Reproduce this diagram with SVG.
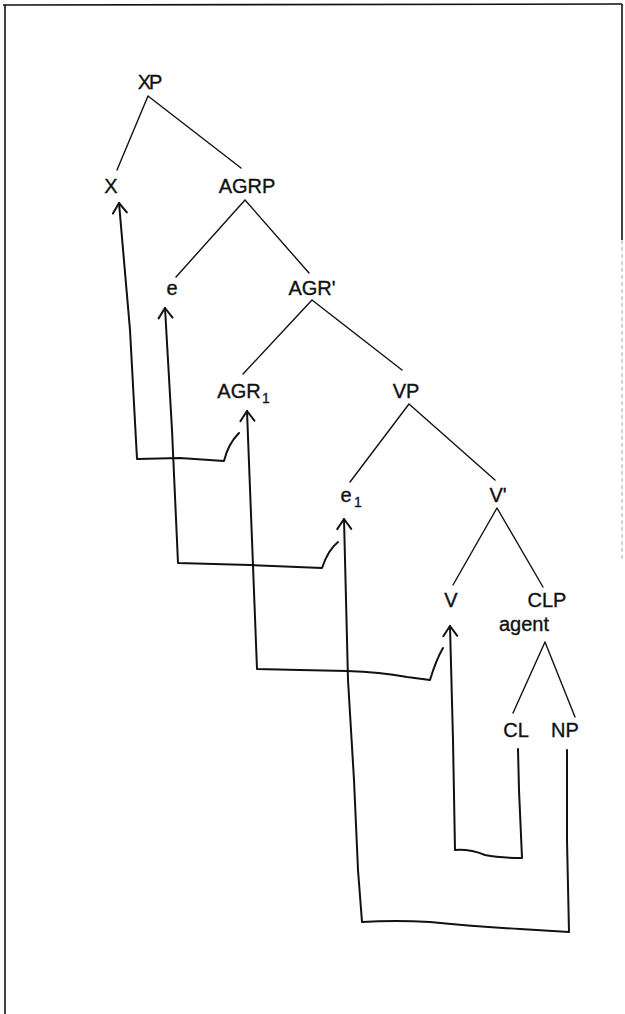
<svg xmlns="http://www.w3.org/2000/svg" width="625" height="1014" viewBox="0 0 625 1014">
<style>
.lbl{font-family:"Liberation Sans",Arial,sans-serif;font-size:20px;fill:#111;stroke:#111;stroke-width:0.35;text-anchor:middle}
.sub{font-family:"Liberation Sans",Arial,sans-serif;font-size:14px;fill:#111;stroke:#111;stroke-width:0.3}
.br{stroke:#111;stroke-width:1.4;fill:none;stroke-linecap:round}
.mv{stroke:#111;stroke-width:2;fill:none;stroke-linejoin:round;stroke-linecap:round}
.frame{stroke:#111;stroke-width:1.6;fill:none}
</style>
<defs>
<marker id="ah" markerUnits="userSpaceOnUse" markerWidth="30" markerHeight="30" viewBox="-15 -15 30 30" refX="0" refY="0" orient="auto-start-reverse" overflow="visible">
<path d="M-10,-7 L0,0 L-10,7" fill="none" stroke="#111" stroke-width="2" stroke-linecap="round" stroke-linejoin="round"/>
</marker>
</defs>
<rect width="625" height="1014" fill="#fff"/>
<g id="frame">
<path class="frame" d="M3,5 L622,4"/>
<path class="frame" d="M5,5 L5,1014"/>
<path class="frame" d="M622,4 L622,240"/>
<path d="M622,240 L622,560" stroke="#aaa" stroke-width="1" stroke-dasharray="4 3" fill="none"/>
</g>
<g id="branches">
<path class="br" d="M148,96 L117,170 M148,96 L241,168"/>
<path class="br" d="M245,200 L176,277 M245,200 L309,273"/>
<path class="br" d="M312,300 L243,374 M312,300 L402,370"/>
<path class="br" d="M409,404 L350,482 M409,404 L495,480"/>
<path class="br" d="M497,508 L453,585 M497,508 L543,587"/>
<path class="br" d="M545,642 L513,713 M545,642 L575,717"/>
</g>
<g id="n-XP"><text class="lbl" x="149" y="89" letter-spacing="-2">XP</text></g>
<g id="n-X"><text class="lbl" x="111" y="193">X</text></g>
<g id="n-AGRP"><text class="lbl" x="247" y="193">AGRP</text></g>
<g id="n-e"><text class="lbl" x="172" y="295">e</text></g>
<g id="n-AGRbar"><text class="lbl" x="312" y="295">AGR'</text></g>
<g id="n-AGR1"><text class="lbl" x="239" y="398">AGR</text><text class="sub" x="262" y="403">1</text></g>
<g id="n-VP"><text class="lbl" x="406" y="398">VP</text></g>
<g id="n-e1"><text class="lbl" x="346" y="502">e</text><text class="sub" x="354" y="507">1</text></g>
<g id="n-Vbar"><text class="lbl" x="498" y="502">V'</text></g>
<g id="n-V"><text class="lbl" x="451" y="607">V</text></g>
<g id="n-CLP"><text class="lbl" x="547" y="607">CLP</text><text class="lbl" x="524" y="631">agent</text></g>
<g id="n-CL"><text class="lbl" x="516" y="737">CL</text></g>
<g id="n-NP"><text class="lbl" x="565" y="737">NP</text></g>
<g id="connectors">
<path class="mv" marker-start="url(#ah)" d="M119,203 L130,330 L137,459 L180,458 L224,461 Q228,444 239,433"/>
<path class="mv" marker-start="url(#ah)" d="M165,308 L172,430 L178,563 L250,565 L322,568 Q328,550 338,542"/>
<path class="mv" marker-start="url(#ah)" d="M247,411 L252,540 L257,669 L300,670 L347,671 Q380,672 407,677 L430,680 Q436,660 443,648"/>
<path class="mv" marker-start="url(#ah)" d="M344,519 L348,680 L354,780 L358,870 L362,922 Q395,920 430,922 Q470,926 520,929 L569,932 L567,840 L567,750"/>
<path class="mv" marker-start="url(#ah)" d="M450,626 L453,740 L455,850 Q470,849 485,855 Q500,858 522,858 L519,790 L518,749"/>
</g>
</svg>
